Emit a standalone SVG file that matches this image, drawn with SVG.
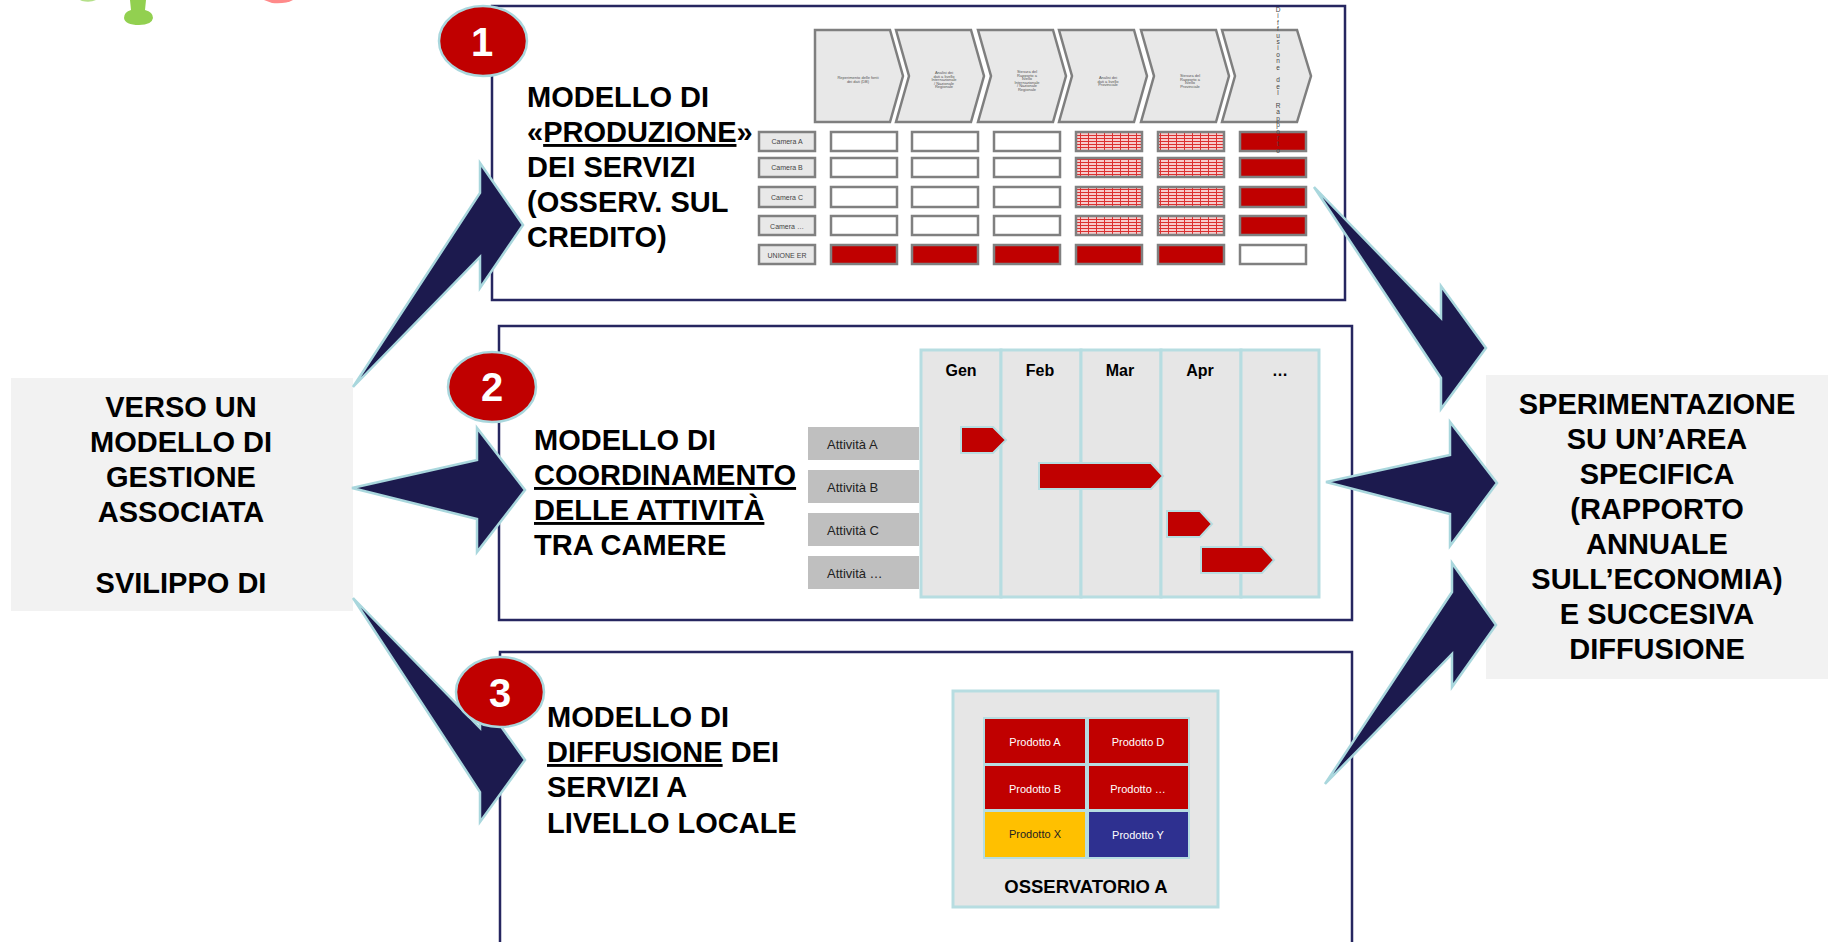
<svg xmlns="http://www.w3.org/2000/svg" width="1834" height="942" viewBox="0 0 1834 942">
<defs>
<style>
.b{font-family:"Liberation Sans",Arial,sans-serif;font-weight:bold;fill:#000}
.t{font-family:"Liberation Sans",Arial,sans-serif;font-weight:bold;font-size:29px;fill:#000}
.frame{fill:#fff;stroke:#262660;stroke-width:2.5}
.arr{fill:#1c1a4e;stroke:#a9d7dd;stroke-width:2.5;stroke-linejoin:miter}
.bal{fill:#c00000;stroke:#a9d7dd;stroke-width:2.5}
.baln{font-family:"Liberation Sans",Arial,sans-serif;font-weight:bold;font-size:40px;fill:#fff;text-anchor:middle}
.chev{fill:#e8e8e8;stroke:#7f7f7f;stroke-width:2.5}
.ct{font-family:"Liberation Sans",Arial,sans-serif;font-size:4px;fill:#555;text-anchor:middle}
.lab{fill:#e8e8e8;stroke:#808080;stroke-width:2.5}
.lt{font-family:"Liberation Sans",Arial,sans-serif;font-size:7px;fill:#444;text-anchor:middle}
.cw{fill:#fff;stroke:#808080;stroke-width:2.5}
.cr{fill:#c00000;stroke:#808080;stroke-width:2.5}
.ch{fill:url(#hatch);stroke:#808080;stroke-width:2.5}
.gcol{fill:#e6e6e6;stroke:#b7dde1;stroke-width:3}
.gh{font-family:"Liberation Sans",Arial,sans-serif;font-weight:bold;font-size:16px;fill:#000;text-anchor:middle}
.bar{fill:#c00000;stroke:#b7dde1;stroke-width:2}
.act{fill:#bfbfbf}
.at{font-family:"Liberation Sans",Arial,sans-serif;font-size:13px;fill:#222}
.pc{stroke:#b7dde1;stroke-width:2}
.pt{font-family:"Liberation Sans",Arial,sans-serif;font-size:11px;text-anchor:middle}
.vt{font-family:"Liberation Sans",Arial,sans-serif;font-size:6.5px;fill:#444;text-anchor:middle}
</style>
<pattern id="hatch" width="8" height="3" patternUnits="userSpaceOnUse">
<rect width="8" height="3" fill="#f8cccc"/>
<rect width="8" height="1" fill="#dc3030"/>
<rect width="1" height="3" fill="#dc3030"/>
</pattern>
</defs>
<rect width="1834" height="942" fill="#fff"/>

<g id="logo-fragment">
<path d="M130,0 L146,0 L145,10 Q153,12 153,18 Q152,25 139,25 Q125,25 124,18 Q124,12 131,10 Z" fill="#92d050"/>
<path d="M80,0 L96,0 Q90,3 82,1 Z" fill="#b5e08a"/>
<path d="M264,0 L293,0 Q286,4 272,3 Z" fill="#ff8a8a"/>
</g>

<g id="box1">
<rect class="frame" x="492" y="6" width="853" height="294"/>
<g id="chevrons">
<polygon class="chev" points="815,30 890,30 903,76 890,122 815,122"/>
<polygon class="chev" points="896,30 971,30 984,76 971,122 896,122 909,76"/>
<polygon class="chev" points="978,30 1053,30 1066,76 1053,122 978,122 991,76"/>
<polygon class="chev" points="1059,30 1134,30 1147,76 1134,122 1059,122 1072,76"/>
<polygon class="chev" points="1141,30 1216,30 1229,76 1216,122 1141,122 1154,76"/>
<polygon class="chev" points="1222,30 1297,30 1311,76 1297,122 1222,122 1235,76"/>
<text class="ct"><tspan x="858" y="79">Reperimento delle fonti</tspan><tspan x="858" y="83">dei dati (DB)</tspan></text>
<text class="ct"><tspan x="944" y="74">Analisi dei</tspan><tspan x="944" y="77.5">dati a livello</tspan><tspan x="944" y="81">Internazionale</tspan><tspan x="944" y="84.5">/ Nazionale</tspan><tspan x="944" y="88">Regionale</tspan></text>
<text class="ct"><tspan x="1027" y="73">Stesura del</tspan><tspan x="1027" y="76.5">Rapporto a</tspan><tspan x="1027" y="80">livello</tspan><tspan x="1027" y="83.5">Internazionale</tspan><tspan x="1027" y="87">/ Nazionale</tspan><tspan x="1027" y="90.5">Regionale</tspan></text>
<text class="ct"><tspan x="1108" y="79">Analisi dei</tspan><tspan x="1108" y="82.5">dati a livello</tspan><tspan x="1108" y="86">Provinciale</tspan></text>
<text class="ct"><tspan x="1190" y="77">Stesura del</tspan><tspan x="1190" y="80.5">Rapporto a</tspan><tspan x="1190" y="84">livello</tspan><tspan x="1190" y="87.5">Provinciale</tspan></text>
</g>
<g id="rows">
<rect class="lab" x="759" y="132" width="56" height="19"/><text class="lt" x="787" y="144">Camera A</text>
<rect class="lab" x="759" y="158" width="56" height="19"/><text class="lt" x="787" y="170">Camera B</text>
<rect class="lab" x="759" y="187" width="56" height="20"/><text class="lt" x="787" y="200">Camera C</text>
<rect class="lab" x="759" y="216" width="56" height="19"/><text class="lt" x="787" y="229">Camera …</text>
<rect class="lab" x="759" y="245" width="56" height="19"/><text class="lt" x="787" y="258">UNIONE  ER</text>

<rect class="cw" x="831" y="132" width="66" height="19"/><rect class="cw" x="912" y="132" width="66" height="19"/><rect class="cw" x="994" y="132" width="66" height="19"/>
<rect class="ch" x="1076" y="132" width="66" height="19"/><rect class="ch" x="1158" y="132" width="66" height="19"/><rect class="cr" x="1240" y="132" width="66" height="19"/>

<rect class="cw" x="831" y="158" width="66" height="19"/><rect class="cw" x="912" y="158" width="66" height="19"/><rect class="cw" x="994" y="158" width="66" height="19"/>
<rect class="ch" x="1076" y="158" width="66" height="19"/><rect class="ch" x="1158" y="158" width="66" height="19"/><rect class="cr" x="1240" y="158" width="66" height="19"/>

<rect class="cw" x="831" y="187" width="66" height="20"/><rect class="cw" x="912" y="187" width="66" height="20"/><rect class="cw" x="994" y="187" width="66" height="20"/>
<rect class="ch" x="1076" y="187" width="66" height="20"/><rect class="ch" x="1158" y="187" width="66" height="20"/><rect class="cr" x="1240" y="187" width="66" height="20"/>

<rect class="cw" x="831" y="216" width="66" height="19"/><rect class="cw" x="912" y="216" width="66" height="19"/><rect class="cw" x="994" y="216" width="66" height="19"/>
<rect class="ch" x="1076" y="216" width="66" height="19"/><rect class="ch" x="1158" y="216" width="66" height="19"/><rect class="cr" x="1240" y="216" width="66" height="19"/>

<rect class="cr" x="831" y="245" width="66" height="19"/><rect class="cr" x="912" y="245" width="66" height="19"/><rect class="cr" x="994" y="245" width="66" height="19"/>
<rect class="cr" x="1076" y="245" width="66" height="19"/><rect class="cr" x="1158" y="245" width="66" height="19"/><rect class="cw" x="1240" y="245" width="66" height="19"/>
</g>
<text class="vt"><tspan x="1278" y="12">D</tspan><tspan x="1278" y="18.4">i</tspan><tspan x="1278" y="24.8">f</tspan><tspan x="1278" y="31.2">f</tspan><tspan x="1278" y="37.6">u</tspan><tspan x="1278" y="44">s</tspan><tspan x="1278" y="50.4">i</tspan><tspan x="1278" y="56.8">o</tspan><tspan x="1278" y="63.2">n</tspan><tspan x="1278" y="69.6">e</tspan><tspan x="1278" y="82.4">d</tspan><tspan x="1278" y="88.8">e</tspan><tspan x="1278" y="95.2">l</tspan><tspan x="1278" y="108">R</tspan><tspan x="1278" y="114.4">a</tspan><tspan x="1278" y="120.8">p</tspan><tspan x="1278" y="127.2">p</tspan><tspan x="1278" y="133.6">o</tspan><tspan x="1278" y="140">r</tspan><tspan x="1278" y="146.4">t</tspan><tspan x="1278" y="152.8">o</tspan></text>
<text class="t"><tspan x="527" y="107">MODELLO DI</tspan><tspan x="527" y="142">«<tspan text-decoration="underline">PRODUZIONE</tspan>»</tspan><tspan x="527" y="177">DEI SERVIZI</tspan><tspan x="527" y="212">(OSSERV. SUL</tspan><tspan x="527" y="247">CREDITO)</tspan></text>
</g>

<g id="box2">
<rect class="frame" x="499" y="326" width="853" height="294"/>
<g id="activities">
<rect class="act" x="808" y="427" width="111" height="33"/><text class="at" x="827" y="449">Attività A</text>
<rect class="act" x="808" y="470" width="111" height="33"/><text class="at" x="827" y="492">Attività B</text>
<rect class="act" x="808" y="513" width="111" height="33"/><text class="at" x="827" y="535">Attività C</text>
<rect class="act" x="808" y="556" width="111" height="33"/><text class="at" x="827" y="578">Attività …</text>
</g>
<g id="gantt">
<rect class="gcol" x="921" y="350" width="80" height="247"/>
<rect class="gcol" x="1001" y="350" width="80" height="247"/>
<rect class="gcol" x="1081" y="350" width="80" height="247"/>
<rect class="gcol" x="1161" y="350" width="80" height="247"/>
<rect class="gcol" x="1241" y="350" width="78" height="247"/>
<text class="gh" x="961" y="376">Gen</text>
<text class="gh" x="1040" y="376">Feb</text>
<text class="gh" x="1120" y="376">Mar</text>
<text class="gh" x="1200" y="376">Apr</text>
<text class="gh" x="1280" y="376">…</text>
<polygon class="bar" points="961,427 993,427 1006,440 993,453 961,453"/>
<polygon class="bar" points="1039,463 1151,463 1163,476 1151,489 1039,489"/>
<polygon class="bar" points="1167,511 1200,511 1212,524 1200,537 1167,537"/>
<polygon class="bar" points="1201,547 1262,547 1274,560 1262,573 1201,573"/>
</g>
<text class="t"><tspan x="534" y="450">MODELLO DI</tspan><tspan x="534" y="485" text-decoration="underline">COORDINAMENTO</tspan><tspan x="534" y="520" text-decoration="underline">DELLE ATTIVITÀ</tspan><tspan x="534" y="555">TRA CAMERE</tspan></text>
</g>

<g id="box3">
<rect class="frame" x="500" y="652" width="852" height="320"/>
<g id="osservatorio">
<rect class="gcol" x="953" y="691" width="265" height="216"/>
<rect class="pc" x="984" y="718" width="102" height="46" fill="#c00000"/>
<rect class="pc" x="1088" y="718" width="101" height="46" fill="#c00000"/>
<rect class="pc" x="984" y="765" width="102" height="45" fill="#c00000"/>
<rect class="pc" x="1088" y="765" width="101" height="45" fill="#c00000"/>
<rect class="pc" x="984" y="811" width="102" height="47" fill="#ffc000"/>
<rect class="pc" x="1088" y="811" width="101" height="47" fill="#2e3090"/>
<text class="pt" x="1035" y="746" fill="#fff">Prodotto  A</text>
<text class="pt" x="1138" y="746" fill="#fff">Prodotto  D</text>
<text class="pt" x="1035" y="793" fill="#fff">Prodotto  B</text>
<text class="pt" x="1138" y="793" fill="#fff">Prodotto  …</text>
<text class="pt" x="1035" y="838" fill="#222">Prodotto  X</text>
<text class="pt" x="1138" y="839" fill="#fff">Prodotto  Y</text>
<text class="b" x="1086" y="893" font-size="18.5" text-anchor="middle">OSSERVATORIO A</text>
</g>
<text class="t"><tspan x="547" y="727">MODELLO DI</tspan><tspan x="547" y="762"><tspan text-decoration="underline">DIFFUSIONE</tspan> DEI</tspan><tspan x="547" y="797">SERVIZI A</tspan><tspan x="547" y="833">LIVELLO LOCALE</tspan></text>
</g>

<g id="left-node">
<rect x="11" y="378" width="342" height="233" fill="#f2f2f2"/>
<text class="t" text-anchor="middle"><tspan x="181" y="417">VERSO UN</tspan><tspan x="181" y="452">MODELLO DI</tspan><tspan x="181" y="487">GESTIONE</tspan><tspan x="181" y="522">ASSOCIATA</tspan><tspan x="181" y="593">SVILIPPO DI</tspan></text>
</g>

<g id="right-node">
<rect x="1486" y="375" width="342" height="304" fill="#f2f2f2"/>
<text class="t" text-anchor="middle"><tspan x="1657" y="414">SPERIMENTAZIONE</tspan><tspan x="1657" y="449">SU UN’AREA</tspan><tspan x="1657" y="484">SPECIFICA</tspan><tspan x="1657" y="519">(RAPPORTO</tspan><tspan x="1657" y="554">ANNUALE</tspan><tspan x="1657" y="589">SULL’ECONOMIA)</tspan><tspan x="1657" y="624">E SUCCESIVA</tspan><tspan x="1657" y="659">DIFFUSIONE</tspan></text>
</g>

<g id="connectors">
<polygon class="arr" points="353,387 480,193 480,163 523,225 480,288 480,257"/>
<polygon class="arr" points="352,488 477,460 477,428 525,490 477,552 477,519"/>
<polygon class="arr" points="353,598 480,728 480,697 525,760 480,822 480,792"/>
<polygon class="arr" points="1314,187 1441,318 1441,286 1486,348 1441,409 1441,378"/>
<polygon class="arr" points="1326,482 1450,455 1450,422 1497,483 1450,546 1450,514"/>
<polygon class="arr" points="1325,784 1452,592 1452,563 1496,625 1452,687 1452,654"/>
</g>

<g id="balloon1"><ellipse class="bal" cx="483" cy="41" rx="44" ry="35"/><text class="baln" x="482" y="56">1</text></g>
<g id="balloon2"><ellipse class="bal" cx="492" cy="387" rx="44" ry="35"/><text class="baln" x="492" y="401">2</text></g>
<g id="balloon3"><ellipse class="bal" cx="500" cy="692" rx="44" ry="35"/><text class="baln" x="500" y="707">3</text></g>
</svg>
